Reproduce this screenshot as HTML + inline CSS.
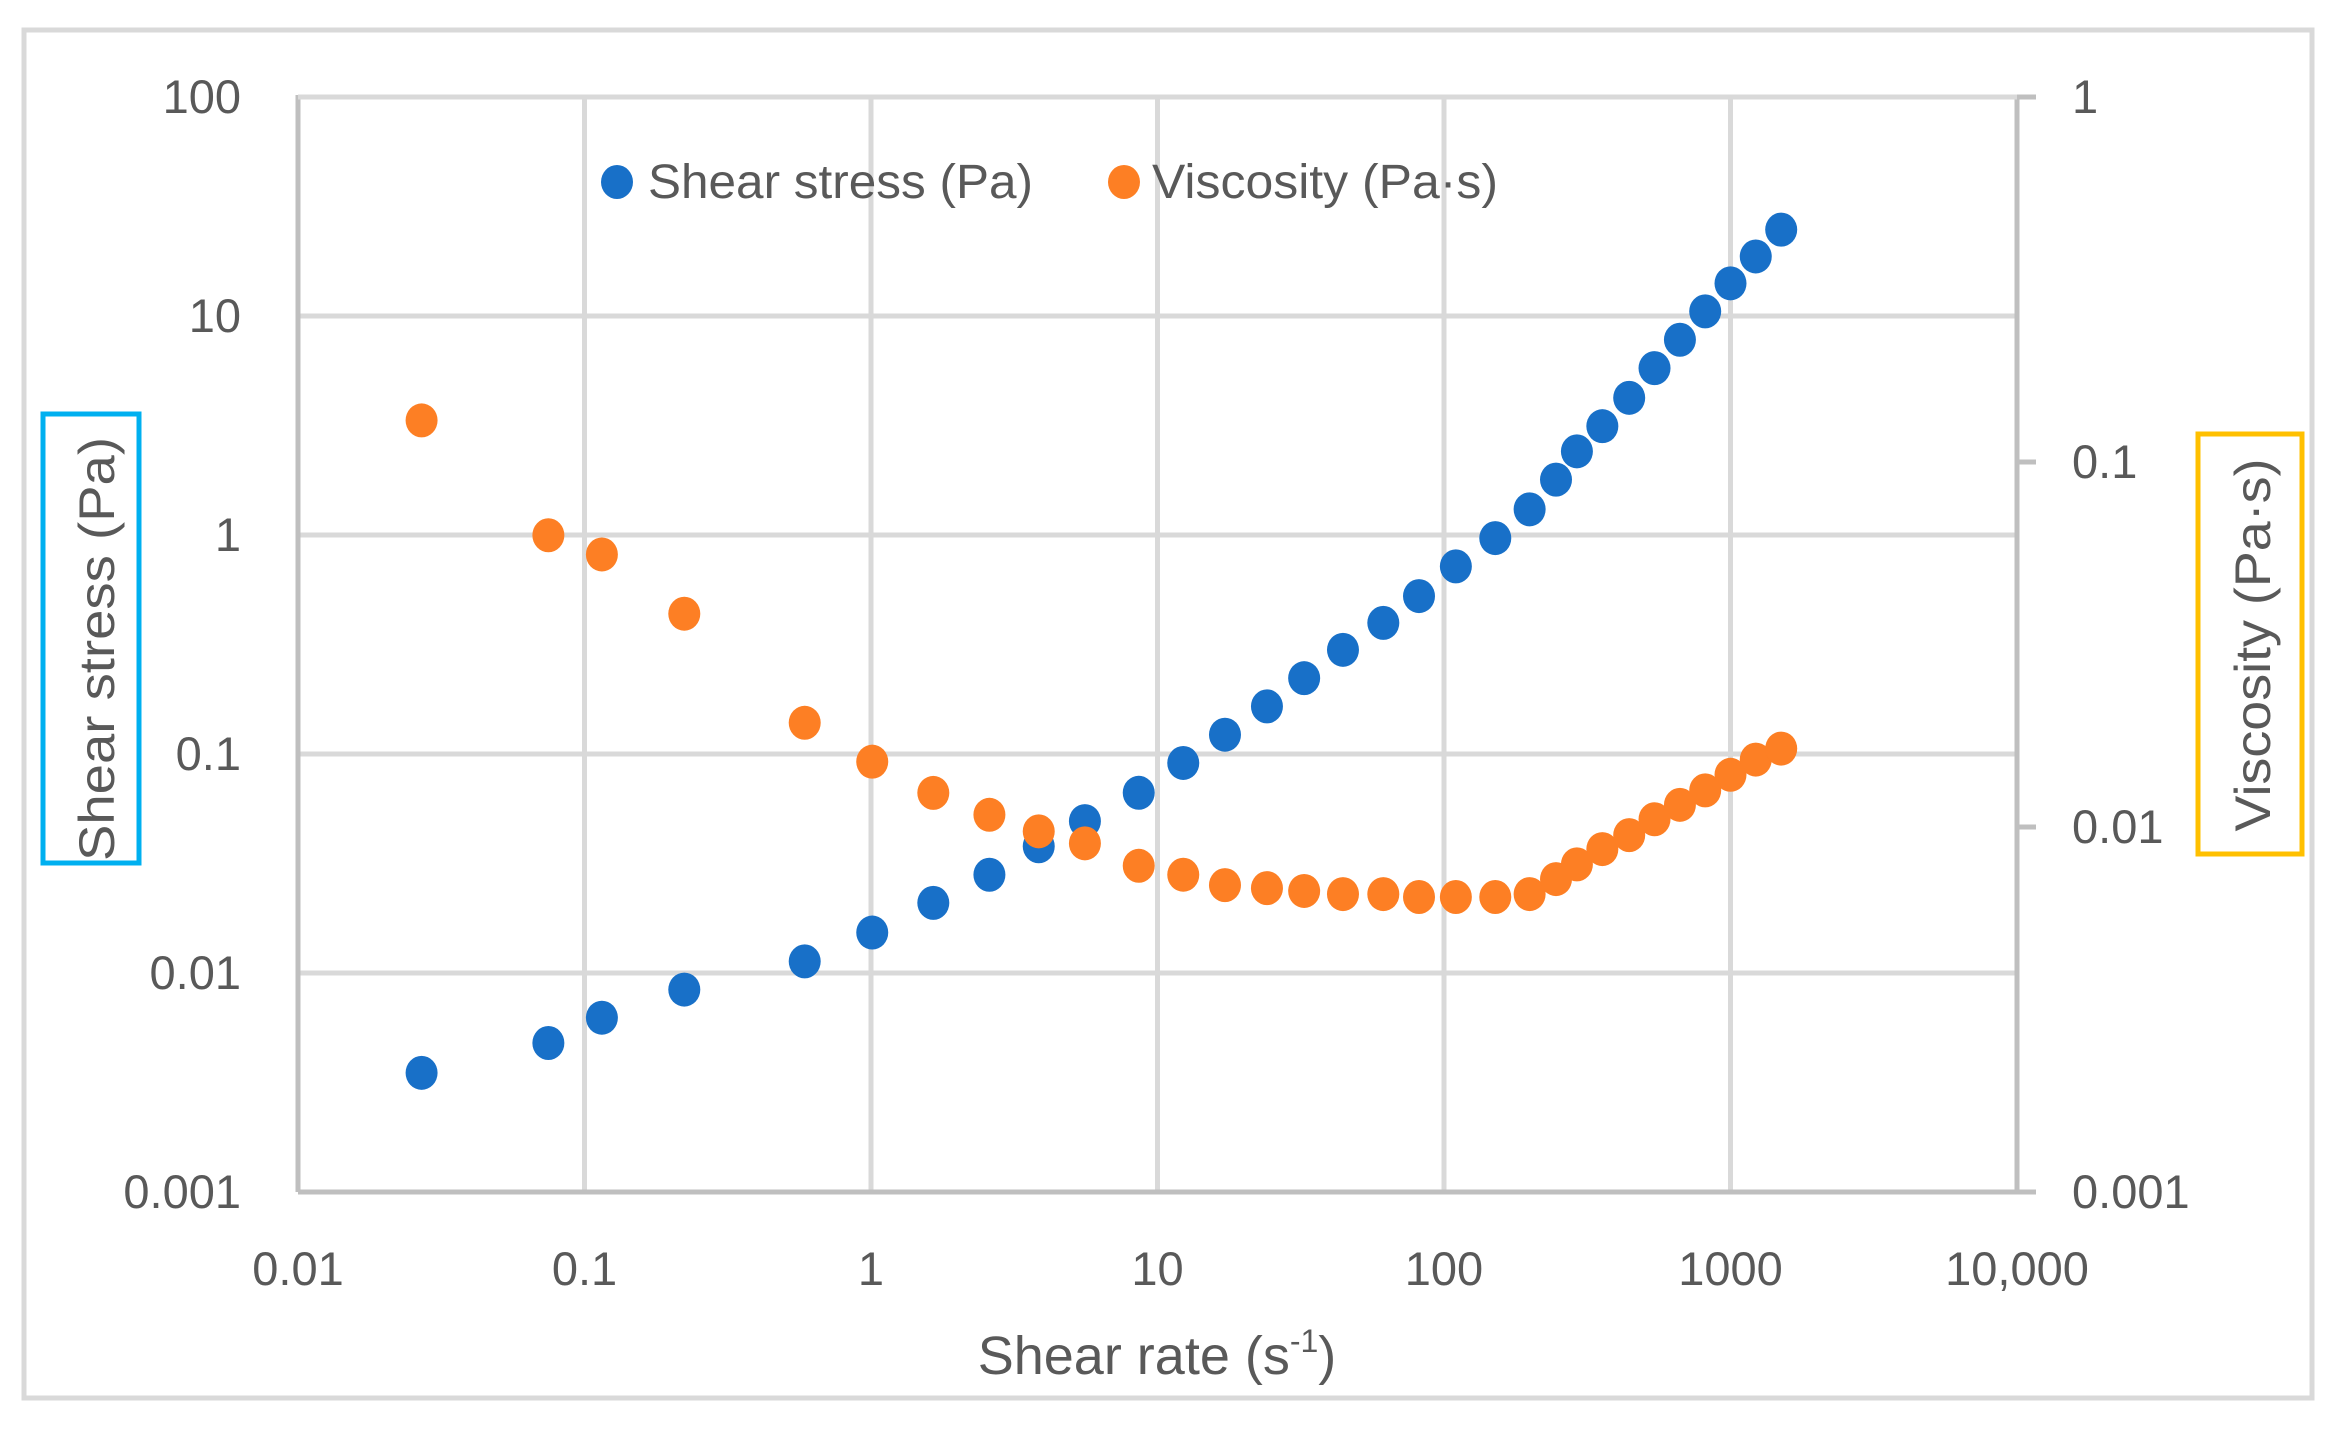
<!DOCTYPE html>
<html><head><meta charset="utf-8"><style>
html,body{margin:0;padding:0;background:#fff;}
svg text{font-family:"Liberation Sans",sans-serif;fill:#595959;}
</style></head><body>
<svg id="chart" width="2337" height="1432" viewBox="0 0 2337 1432" xmlns="http://www.w3.org/2000/svg">
<rect x="24" y="30" width="2288" height="1368" fill="#fff" stroke="#d9d9d9" stroke-width="5"/>
<g id="grid"></g>
<g id="axes"></g>
<g id="ticks"></g>
<g id="marks"></g>
<g>
<ellipse cx="617" cy="182" rx="16" ry="17" fill="#1870c8"/>
<text x="648" y="198" font-size="48" textLength="385" lengthAdjust="spacingAndGlyphs">Shear stress (Pa)</text>
<ellipse cx="1124" cy="182" rx="16" ry="17" fill="#fd7f24"/>
<text x="1152" y="198" font-size="48" textLength="346" lengthAdjust="spacingAndGlyphs">Viscosity (Pa·s)</text>
</g>
<rect x="43" y="414" width="96" height="449" fill="none" stroke="#00b0f0" stroke-width="5"/>
<text transform="translate(114,649) rotate(-90)" text-anchor="middle" font-size="50" textLength="424" lengthAdjust="spacingAndGlyphs">Shear stress (Pa)</text>
<rect x="2198" y="434" width="104" height="420" fill="none" stroke="#ffc000" stroke-width="5"/>
<text transform="translate(2270,645) rotate(-90)" text-anchor="middle" font-size="50" textLength="373" lengthAdjust="spacingAndGlyphs">Viscosity (Pa·s)</text>
<text x="1157" y="1374" text-anchor="middle" font-size="54">Shear rate (s<tspan font-size="32" dy="-22">-1</tspan><tspan dy="22">)</tspan></text>
</svg>
<script>
const shearRate=[0.027,0.0748,0.115,0.223,0.587,1.01,1.65,2.59,3.85,5.58,8.6,12.3,17.2,24.1,32.5,44.4,61.4,81.8,110,151,199,246,291,357,443,543,666,816,1000,1225,1503];
const shearStress=[0.0035,0.00479,0.00625,0.0084,0.0113,0.0153,0.0209,0.0281,0.0379,0.0494,0.0665,0.091,0.1225,0.165,0.222,0.299,0.397,0.526,0.719,0.968,1.31,1.79,2.41,3.14,4.23,5.78,7.79,10.5,14.1,18.7,24.8];
const viscosity=[0.130,0.063,0.0558,0.0384,0.0193,0.0151,0.0124,0.0108,0.00973,0.00902,0.00783,0.0074,0.00693,0.0068,0.00668,0.00655,0.00655,0.00643,0.00643,0.00643,0.00655,0.0072,0.0079,0.0087,0.0095,0.0105,0.0115,0.0126,0.0139,0.0153,0.0164];
const xTicks=[0.01,0.1,1,10,100,1000,10000];
const xTickLabels=["0.01","0.1","1","10","100","1000","10,000"];
const yTicks=[100,10,1,0.1,0.01,0.001];
const yTickLabels=["100","10","1","0.1","0.01","0.001"];
const y2Ticks=[1,0.1,0.01,0.001];
const y2TickLabels=["1","0.1","0.01","0.001"];

const L=298,R=2017,T=97,B=1192;
const NS="http://www.w3.org/2000/svg";
function xs(v){return L+(Math.log10(v)+2)/6*(R-L);}
function ys(v){return T+(2-Math.log10(v))/5*(B-T);}
function ys2(v){return T+(0-Math.log10(v))/3*(B-T);}
function mk(tag,attrs,parent){const e=document.createElementNS(NS,tag);for(const k in attrs)e.setAttribute(k,attrs[k]);parent.appendChild(e);return e;}
const grid=document.getElementById('grid'),axes=document.getElementById('axes'),ticks=document.getElementById('ticks'),marks=document.getElementById('marks');
xTicks.forEach((v,i)=>{
  const x=xs(v);
  if(i>0&&i<xTicks.length-1){const g=mk('line',{x1:x,x2:x,y1:T,y2:B,stroke:'#d9d9d9','stroke-width':5},grid);
  
  }
  const t=mk('text',{x:x,y:1285,'text-anchor':'middle','font-size':47},ticks);t.textContent=xTickLabels[i];
  
  
});
yTicks.forEach((v,i)=>{
  const y=ys(v);
  if(i<yTicks.length-1){const g=mk('line',{x1:L,x2:R,y1:y,y2:y,stroke:'#d9d9d9','stroke-width':5},grid);
  
  }
  const t=mk('text',{x:241,y:y+16,'text-anchor':'end','font-size':47},ticks);t.textContent=yTickLabels[i];
  
  
});
y2Ticks.forEach((v,i)=>{
  const y=ys2(v);
  const tk=mk('line',{x1:R,x2:2036,y1:y,y2:y,stroke:'#bfbfbf','stroke-width':5},axes);
  
  
  const t=mk('text',{x:2072,y:y+16,'font-size':47},ticks);t.textContent=y2TickLabels[i];
  
  
});
const a1=mk('line',{x1:L,x2:L,y1:T-2,y2:B,stroke:'#bfbfbf','stroke-width':5},axes);


const a2=mk('line',{x1:R,x2:R,y1:T-2,y2:B,stroke:'#bfbfbf','stroke-width':5},axes);


const a3=mk('line',{x1:L,x2:2036,y1:B,y2:B,stroke:'#bfbfbf','stroke-width':5},axes);


const a4=mk('line',{x1:L,x2:R,y1:T,y2:T,stroke:'#d9d9d9','stroke-width':5},axes);


shearRate.forEach((x,i)=>{
  const p=mk('ellipse',{cx:xs(x),cy:ys(shearStress[i]),rx:16,ry:17,fill:'#1870c8'},marks);
  
  
});
shearRate.forEach((x,i)=>{
  const p=mk('ellipse',{cx:xs(x),cy:ys2(viscosity[i]),rx:16,ry:17,fill:'#fd7f24'},marks);
  
  
});
</script>
</body></html>
